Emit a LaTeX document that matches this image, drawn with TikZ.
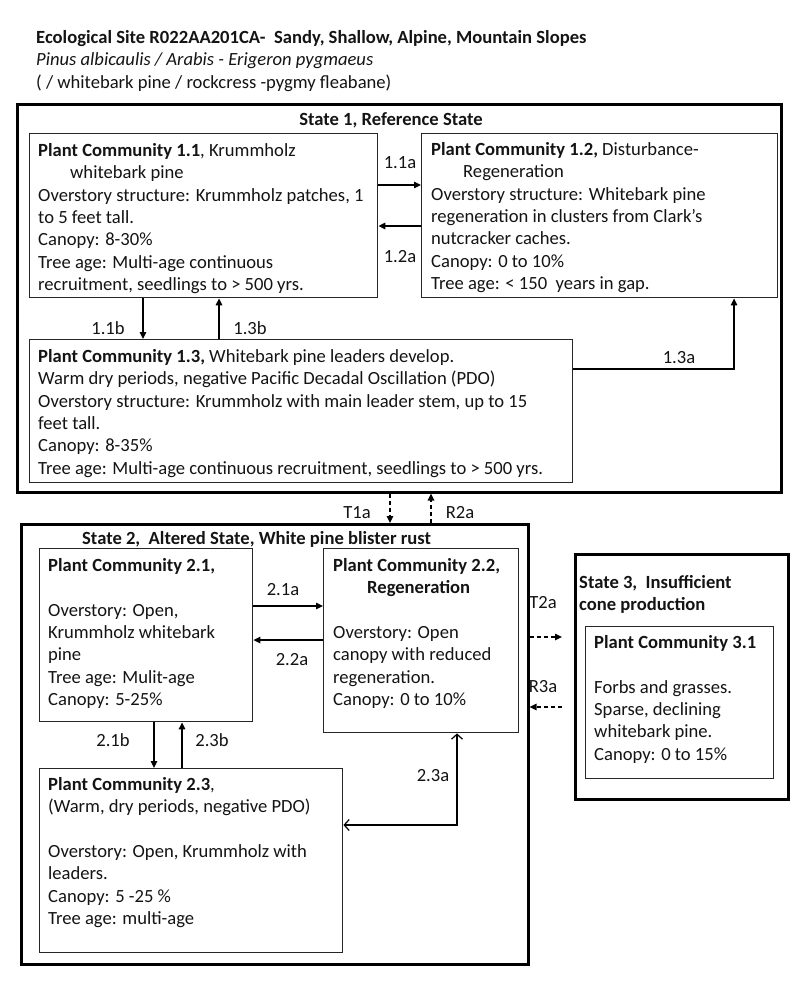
\documentclass[tikz,border=0pt]{standalone}
\usepackage{fontspec}
\setmainfont{Carlito}
\usetikzlibrary{arrows.meta,calc}
\begin{document}
\begin{tikzpicture}[x=1pt,y=-1pt,
  txt/.style={font=\fontsize{18.6}{22.4}\selectfont, inner sep=0pt, text=black!92},
  ttl/.style={font=\fontsize{18.6}{22.4}\selectfont\bfseries, inner sep=0pt, text=black!92},
  body/.style={txt, anchor=north west, align=left},
  pcbox/.style={draw=black!85, line width=1.4pt, anchor=north west, inner sep=0pt},
  stbox/.style={draw=black, line width=2.6pt, anchor=north west, inner sep=0pt},
  lbl/.style={txt},
  arr/.style={line width=1.4pt, -{Triangle[length=7pt,width=6.5pt]}},
  darr/.style={arr, dash pattern=on 4pt off 3pt},
  oarr/.style={line width=1.2pt, {Straight Barb[length=5pt,width=11pt]}-{Straight Barb[length=5pt,width=11pt]}},
]
\useasboundingbox[fill=white] (0,0) rectangle (800,984);

% header
\node[body] (head) at (36,30) {\textbf{Ecological Site R022AA201CA-~ Sandy, Shallow, Alpine, Mountain Slopes}\\\textit{Pinus albicaulis / Arabis - Erigeron pygmaeus}\\( / whitebark pine / rockcress -pygmy fleabane)};

% State 1
\node[stbox, minimum width=764pt, minimum height=388pt] (s1) at (16,103) {};
\node[ttl] (s1t) at (391,120) {State 1, Reference State};

\node[pcbox, minimum width=348pt, minimum height=164pt] (p11) at (29,133) {};
\node[body] (t11) at (38,143) {\textbf{Plant Community 1.1}, Krummholz\\\hspace*{32pt}whitebark pine\\Overstory structure: Krummholz patches, 1\\to 5 feet tall.\\Canopy: 8-30\%\\Tree age: Multi-age continuous\\recruitment, seedlings to > 500 yrs.};

\node[pcbox, minimum width=356pt, minimum height=164pt] (p12) at (421,133) {};
\node[body] (t12) at (431,142) {\textbf{Plant Community 1.2,} Disturbance-\\\hspace*{32pt}Regeneration\\Overstory structure: Whitebark pine\\regeneration in clusters from Clark’s\\nutcracker caches.\\Canopy: 0 to 10\%\\Tree age: < 150~ years in gap.};

\node[pcbox, minimum width=543pt, minimum height=143pt] (p13) at (29,339) {};
\node[body] (t13) at (38,349) {\textbf{Plant Community 1.3,} Whitebark pine leaders develop.\\Warm dry periods, negative Pacific Decadal Oscillation (PDO)\\Overstory structure: Krummholz with main leader stem, up to 15\\feet tall.\\Canopy: 8-35\%\\Tree age: Multi-age continuous recruitment, seedlings to > 500 yrs.};

% State 2
\node[stbox, minimum width=507pt, minimum height=440pt] (s2) at (20,523) {};
\node[ttl, anchor=west] (s2t) at (82,539) {State 2,~ Altered State, White pine blister rust};

\node[pcbox, minimum width=213pt, minimum height=173pt] (p21) at (39,548) {};
\node[body] (t21) at (48,558) {\textbf{Plant Community 2.1,}\\ \\Overstory: Open,\\Krummholz whitebark\\pine\\Tree age: Mulit-age\\Canopy: 5-25\%};

\node[pcbox, minimum width=195pt, minimum height=184pt] (p22) at (323,548) {};
\node[body] (t22) at (333,558) {\textbf{Plant Community 2.2,}\\\hspace*{34pt}\textbf{Regeneration}\\ \\Overstory: Open\\canopy with reduced\\regeneration.\\Canopy: 0 to 10\%};

\node[pcbox, minimum width=303pt, minimum height=184pt] (p23) at (39,768) {};
\node[body] (t23) at (48,777) {\textbf{Plant Community 2.3},\\(Warm, dry periods, negative PDO)\\ \\Overstory: Open, Krummholz with\\leaders.\\Canopy: 5 -25 \%\\Tree age: multi-age};

% State 3
\node[stbox, minimum width=213pt, minimum height=245pt] (s3) at (574,553) {};
\node[ttl, anchor=north west, align=left] (s3t) at (579,575) {State 3,~ Insufficient\\cone production};
\node[pcbox, minimum width=188pt, minimum height=152pt] (p31) at (585,626) {};
\node[body] (t31) at (594,635) {\textbf{Plant Community 3.1}\\ \\Forbs and grasses.\\Sparse, declining\\whitebark pine.\\Canopy: 0 to 15\%};

% connectors state 1
\coordinate (k11a) at (400,185);
\coordinate (k12a) at (400,226);
\coordinate (k11b) at (143,320);
\coordinate (k13b) at (219,320);
\coordinate (k13a) at (734,369);
\draw[arr] (p11.east |- k11a) -- (p12.west |- k11a);
\draw[arr] (p12.west |- k12a) -- (p11.east |- k12a);
\draw[arr] (p11.south -| k11b) -- (p13.north -| k11b);
\draw[arr] (p13.north -| k13b) -- (p11.south -| k13b);
\draw[arr] (p13.east |- k13a) -- (k13a) -- (p12.south -| k13a);
\node[lbl] (l11a) at (400,163) {1.1a};
\node[lbl] (l12a) at (400,257) {1.2a};
\node[lbl] (l11b) at (108,328) {1.1b};
\node[lbl] (l13b) at (250,328) {1.3b};
\node[lbl] (l13a) at (679,358) {1.3a};

% between states
\coordinate (kt1a) at (390,507);
\coordinate (kr2a) at (431,507);
\draw[darr] (s1.south -| kt1a) -- (s2.north -| kt1a);
\draw[darr] (s2.north -| kr2a) -- (s1.south -| kr2a);
\node[lbl] (lt1a) at (357,513) {T1a};
\node[lbl] (lr2a) at (460,513) {R2a};

\coordinate (et2a) at (562,637);
\coordinate (er3a) at (562,707);
\draw[darr] (s2.east |- et2a) -- (et2a);
\draw[darr] (er3a) -- (s2.east |- er3a);
\node[lbl] (lt2a) at (543,603) {T2a};
\node[lbl] (lr3a) at (543,687) {R3a};

% connectors state 2
\coordinate (k21a) at (290,606);
\coordinate (k22a) at (290,640);
\coordinate (k21b) at (154,745);
\coordinate (k23b) at (182,745);
\coordinate (k23a) at (457,825);
\draw[arr] (p21.east |- k21a) -- (p22.west |- k21a);
\draw[arr] (p22.west |- k22a) -- (p21.east |- k22a);
\draw[arr] (p21.south -| k21b) -- (p23.north -| k21b);
\draw[arr] (p23.north -| k23b) -- (p21.south -| k23b);
\draw[oarr] (p22.south -| k23a) -- (k23a) -- (p23.east |- k23a);
\node[lbl] (l21a) at (283,590) {2.1a};
\node[lbl] (l22a) at (292,660) {2.2a};
\node[lbl] (l21b) at (113,740) {2.1b};
\node[lbl] (l23b) at (212,740) {2.3b};
\node[lbl] (l23a) at (433,776) {2.3a};
\end{tikzpicture}
\end{document}
